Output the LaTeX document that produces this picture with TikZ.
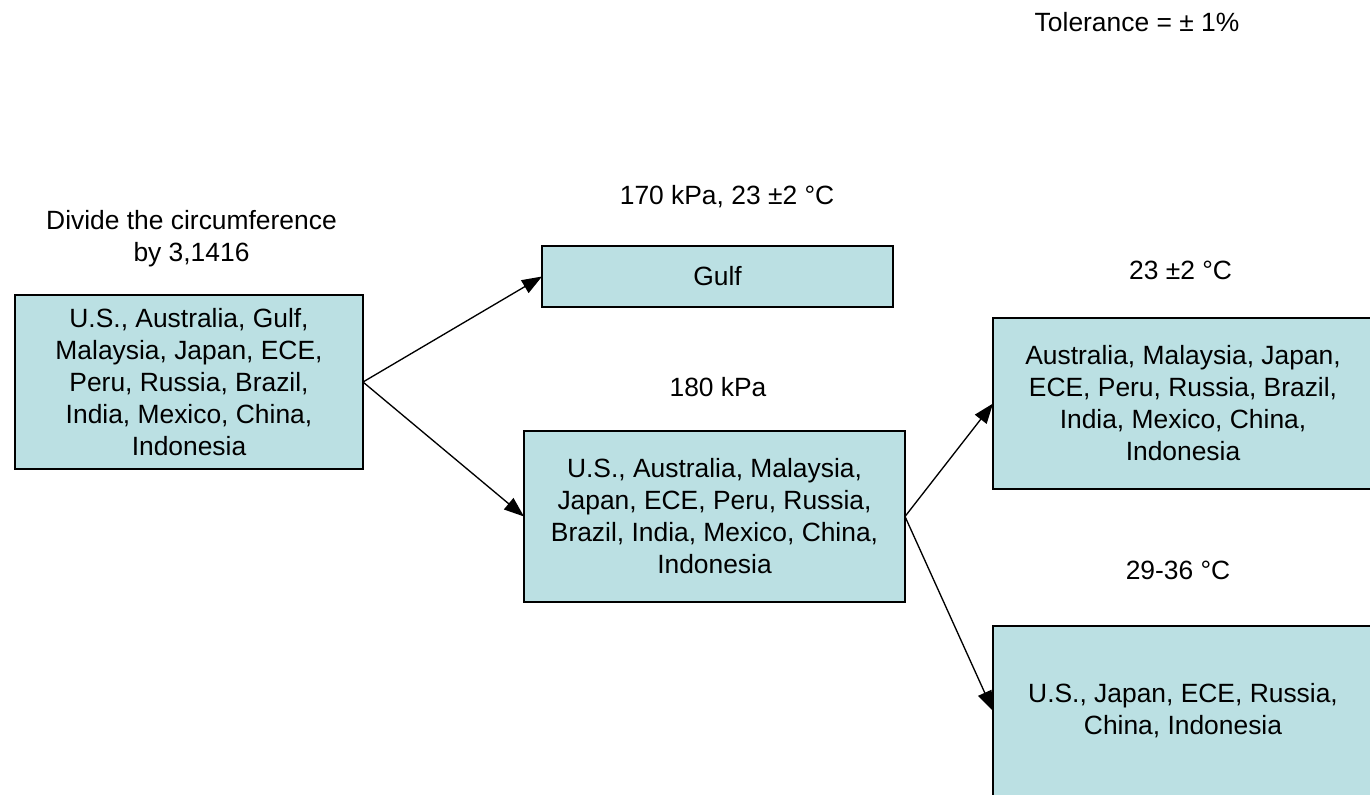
\documentclass[tikz,border=0pt]{standalone}
\usepackage{fontspec}
\setmainfont{Liberation Sans}
\usetikzlibrary{arrows.meta}
\begin{document}
\begin{tikzpicture}[x=0.75pt,y=-0.75pt,
  every node/.style={font=\fontsize{19.8pt}{24pt}\selectfont, inner sep=0pt, outer sep=0pt},
  box/.style={draw=black, line width=1.1pt, fill=boxfill, align=center, rectangle},
  lbl/.style={anchor=base},
  arr/.style={draw=black, line width=1pt, -{Triangle[length=15pt,width=11pt]}}]
\definecolor{boxfill}{RGB}{187,224,227}
\useasboundingbox (0,0) rectangle (1370,794);
\begin{scope}
\clip (0,0) rectangle (1370,794);
\node[box, minimum width=261pt, minimum height=130.5pt] (a) at (189,382)
  {U.S., Australia, Gulf,\\Malaysia, Japan, ECE,\\Peru, Russia, Brazil,\\India, Mexico, China,\\Indonesia};
\node[box, minimum width=263.25pt, minimum height=45.75pt] (g) at (717.5,276.5) {Gulf};
\node[box, minimum width=285.75pt, minimum height=128.25pt] (m) at (714.5,516.5)
  {U.S., Australia, Malaysia,\\Japan, ECE, Peru, Russia,\\Brazil, India, Mexico, China,\\Indonesia};
\node[box, minimum width=285pt, minimum height=128.25pt] (tr) at (1183,403.5)
  {Australia, Malaysia, Japan,\\ECE, Peru, Russia, Brazil,\\India, Mexico, China,\\Indonesia};
\node[box, minimum width=285pt, minimum height=127.5pt] (br) at (1183,711)
  {U.S., Japan, ECE, Russia,\\China, Indonesia};
\end{scope}
\node[lbl] (tol) at (1137,31) {Tolerance = ± 1\%};
\node[lbl] (div1) at (191.5,229) {Divide the circumference};
\node[lbl] (div2) at (191.5,261) {by 3,1416};
\node[lbl] (l170) at (727,204) {170 kPa, 23 ±2 °C};
\node[lbl] (l180) at (718,396) {180 kPa};
\node[lbl] (l23) at (1180.5,279) {23 ±2 °C};
\node[lbl] (l29) at (1178,579) {29-36 °C};
\draw[arr] (a.east) -- (g.west);
\draw[arr] (a.east) -- (m.west);
\draw[arr] (m.east) -- (tr.west);
\draw[arr] (m.east) -- (br.west);
\end{tikzpicture}
\end{document}
